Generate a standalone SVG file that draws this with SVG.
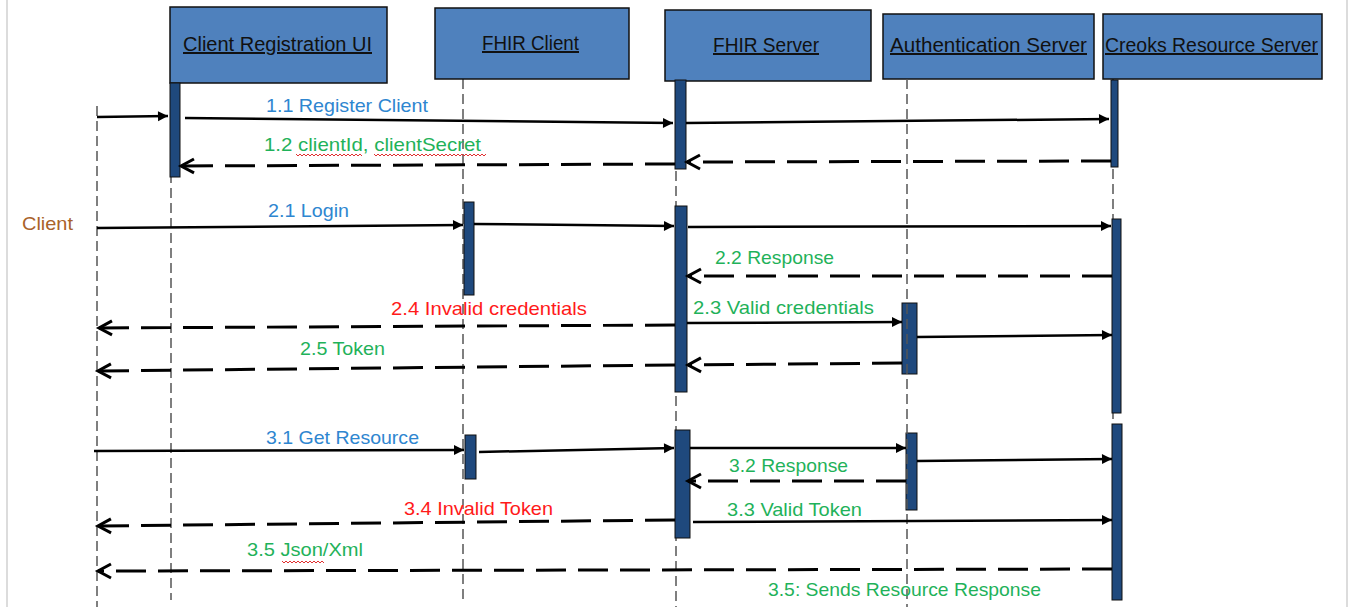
<svg xmlns="http://www.w3.org/2000/svg" width="1349" height="607" viewBox="0 0 1349 607">
<style>
.box{fill:#4f81bd;stroke:#111;stroke-width:1.5}
.bar{fill:#1f497d;stroke:#111;stroke-width:1}
.life{stroke:#555;stroke-width:1.5;stroke-dasharray:10 5;fill:none}
.sol{stroke:#000;stroke-width:2.5;fill:none;marker-end:url(#fa)}
.das{stroke:#000;stroke-width:3;fill:none;stroke-dasharray:30 12;marker-end:url(#oa)}
.hd{font-family:"Liberation Sans",Arial,sans-serif;font-size:20px;fill:#111;text-decoration:underline;text-anchor:middle}
.lb{font-family:"Liberation Sans",Arial,sans-serif;font-size:19px}
.blue{fill:#2e86d0}.green{fill:#1fb25a}.red{fill:#ff1a1a}.brown{fill:#a9622a}
.sq{stroke:#e03030;stroke-width:1;fill:none}
</style>
<defs>
<marker id="fa" markerUnits="userSpaceOnUse" markerWidth="12" markerHeight="12" refX="10" refY="5" orient="auto" style="overflow:visible"><path d="M0,0 L10,5 L0,10 z" fill="#000"/></marker>
<marker id="oa" markerUnits="userSpaceOnUse" markerWidth="16" markerHeight="16" refX="13" refY="7" orient="auto" style="overflow:visible"><path d="M0,0 L13,7 L0,14" fill="none" stroke="#000" stroke-width="3" stroke-dasharray="none"/></marker>
</defs>
<rect width="1349" height="607" fill="#fff"/>
<line x1="7" y1="0" x2="7" y2="607" stroke="#d0d0d0" stroke-width="1.5"/>
<line x1="1347" y1="0" x2="1347" y2="607" stroke="#d0d0d0" stroke-width="1.5"/>

<g id="client">
<line class="life" x1="97" y1="106" x2="97" y2="607"/>
<text class="lb brown" x="22" y="230" textLength="51" lengthAdjust="spacingAndGlyphs">Client</text>
</g>

<g id="client-registration-ui">
<line class="life" x1="171" y1="83" x2="171" y2="600"/>
<rect class="box" x="170" y="7" width="217" height="76"/>
<text class="hd" x="277.5" y="51" textLength="189" lengthAdjust="spacingAndGlyphs">Client Registration UI</text>
<rect class="bar" x="170" y="83" width="10" height="94"/>
</g>

<g id="fhir-client">
<line class="life" x1="463" y1="79" x2="463" y2="600"/>
<rect class="box" x="435" y="8" width="194" height="71"/>
<text class="hd" x="530.5" y="50" textLength="97" lengthAdjust="spacingAndGlyphs">FHIR Client</text>
<rect class="bar" x="464" y="202" width="10" height="93"/>
<rect class="bar" x="465" y="435" width="11" height="44"/>
</g>

<g id="fhir-server">
<line class="life" x1="676" y1="81" x2="676" y2="607"/>
<rect class="box" x="665" y="10" width="206" height="71"/>
<text class="hd" x="766" y="52" textLength="106" lengthAdjust="spacingAndGlyphs">FHIR Server</text>
<rect class="bar" x="675" y="80" width="11" height="89"/>
<rect class="bar" x="675" y="206" width="12" height="186"/>
<rect class="bar" x="675" y="430" width="15" height="108"/>
</g>

<g id="authentication-server">
<rect class="box" x="883" y="14" width="211" height="65"/>
<text class="hd" x="988.5" y="52" textLength="197" lengthAdjust="spacingAndGlyphs">Authentication Server</text>
<rect class="bar" x="902" y="303" width="15" height="71"/>
<rect class="bar" x="906" y="433" width="11" height="77"/>
<line class="life" x1="907" y1="79" x2="907" y2="607"/>
</g>

<g id="creoks-resource-server">
<line class="life" x1="1113" y1="79" x2="1113" y2="600"/>
<rect class="box" x="1103" y="14" width="219" height="65"/>
<text class="hd" x="1211.5" y="52" textLength="213" lengthAdjust="spacingAndGlyphs">Creoks Resource Server</text>
<rect class="bar" x="1111" y="80" width="7" height="87"/>
<rect class="bar" x="1112" y="219" width="9" height="194"/>
<rect class="bar" x="1112" y="424" width="10" height="176"/>
</g>

<g id="connectors">
<line class="sol" x1="97" y1="117" x2="168" y2="116"/>
<line class="sol" x1="185" y1="118" x2="673" y2="123"/>
<line class="sol" x1="686" y1="123" x2="1109" y2="119"/>
<line class="das" x1="1111" y1="161" x2="687" y2="162"/>
<line class="das" x1="675" y1="164" x2="181" y2="166"/>

<line class="sol" x1="97" y1="228" x2="463" y2="225"/>
<line class="sol" x1="474" y1="224" x2="674" y2="226"/>
<line class="sol" x1="688" y1="227" x2="1111" y2="226"/>
<line class="das" x1="1112" y1="276" x2="688" y2="276"/>
<line class="das" x1="675" y1="325" x2="99" y2="328"/>
<line class="sol" x1="687" y1="323" x2="902" y2="322"/>
<line class="sol" x1="917" y1="337" x2="1112" y2="335"/>
<line class="das" x1="902" y1="363" x2="688" y2="365"/>
<line class="das" x1="675" y1="365" x2="98" y2="371"/>

<line class="sol" x1="94" y1="451" x2="464" y2="450"/>
<line class="sol" x1="479" y1="452" x2="674" y2="448"/>
<line class="sol" x1="690" y1="448" x2="906" y2="448"/>
<line class="sol" x1="917" y1="461" x2="1112" y2="459"/>
<line class="das" x1="906" y1="481" x2="688" y2="481"/>
<line class="das" x1="675" y1="520" x2="98" y2="526"/>
<line class="sol" x1="693" y1="522" x2="1112" y2="520"/>
<line class="das" x1="1112" y1="569" x2="98" y2="571"/>

<text class="lb blue" x="266" y="112" textLength="162" lengthAdjust="spacingAndGlyphs">1.1 Register Client</text>
<text class="lb green" x="264" y="151" textLength="217" lengthAdjust="spacingAndGlyphs">1.2 clientId, clientSecret</text>
<path class="sq" d="M296,154 l2,2 l2,-2 l2,2 l2,-2 l2,2 l2,-2 l2,2 l2,-2 l2,2 l2,-2 l2,2 l2,-2 l2,2 l2,-2 l2,2 l2,-2 l2,2 l2,-2 l2,2 l2,-2 l2,2 l2,-2 l2,2 l2,-2 l2,2 l2,-2 l2,2 l2,-2 l2,2 l2,-2 l2,2 l2,-2 l2,2"/>
<path class="sq" d="M374,154 l2,2 l2,-2 l2,2 l2,-2 l2,2 l2,-2 l2,2 l2,-2 l2,2 l2,-2 l2,2 l2,-2 l2,2 l2,-2 l2,2 l2,-2 l2,2 l2,-2 l2,2 l2,-2 l2,2 l2,-2 l2,2 l2,-2 l2,2 l2,-2 l2,2 l2,-2 l2,2 l2,-2 l2,2 l2,-2 l2,2 l2,-2 l2,2 l2,-2 l2,2 l2,-2 l2,2 l2,-2 l2,2 l2,-2 l2,2 l2,-2 l2,2 l2,-2 l2,2 l2,-2 l2,2 l2,-2 l2,2 l2,-2 l2,2 l2,-2 l2,2 l2,-2"/>
<text class="lb blue" x="268" y="217" textLength="81" lengthAdjust="spacingAndGlyphs">2.1 Login</text>
<text class="lb green" x="715" y="264" textLength="119" lengthAdjust="spacingAndGlyphs">2.2 Response</text>
<text class="lb red" x="391" y="315" textLength="196" lengthAdjust="spacingAndGlyphs">2.4 Invalid credentials</text>
<text class="lb green" x="693" y="314" textLength="181" lengthAdjust="spacingAndGlyphs">2.3 Valid credentials</text>
<text class="lb green" x="300" y="355" textLength="85" lengthAdjust="spacingAndGlyphs">2.5 Token</text>
<text class="lb blue" x="266" y="444" textLength="153" lengthAdjust="spacingAndGlyphs">3.1 Get Resource</text>
<text class="lb green" x="729" y="472" textLength="119" lengthAdjust="spacingAndGlyphs">3.2 Response</text>
<text class="lb red" x="404" y="515" textLength="149" lengthAdjust="spacingAndGlyphs">3.4 Invalid Token</text>
<text class="lb green" x="727" y="516" textLength="135" lengthAdjust="spacingAndGlyphs">3.3 Valid Token</text>
<text class="lb green" x="247" y="556" textLength="116" lengthAdjust="spacingAndGlyphs">3.5 Json/Xml</text>
<path class="sq" d="M282,561 l2,2 l2,-2 l2,2 l2,-2 l2,2 l2,-2 l2,2 l2,-2 l2,2 l2,-2 l2,2 l2,-2 l2,2 l2,-2 l2,2 l2,-2 l2,2 l2,-2 l2,2 l2,-2 l2,2"/>
<text class="lb green" x="768" y="596" textLength="273" lengthAdjust="spacingAndGlyphs">3.5: Sends Resource Response</text>
</g>
</svg>
